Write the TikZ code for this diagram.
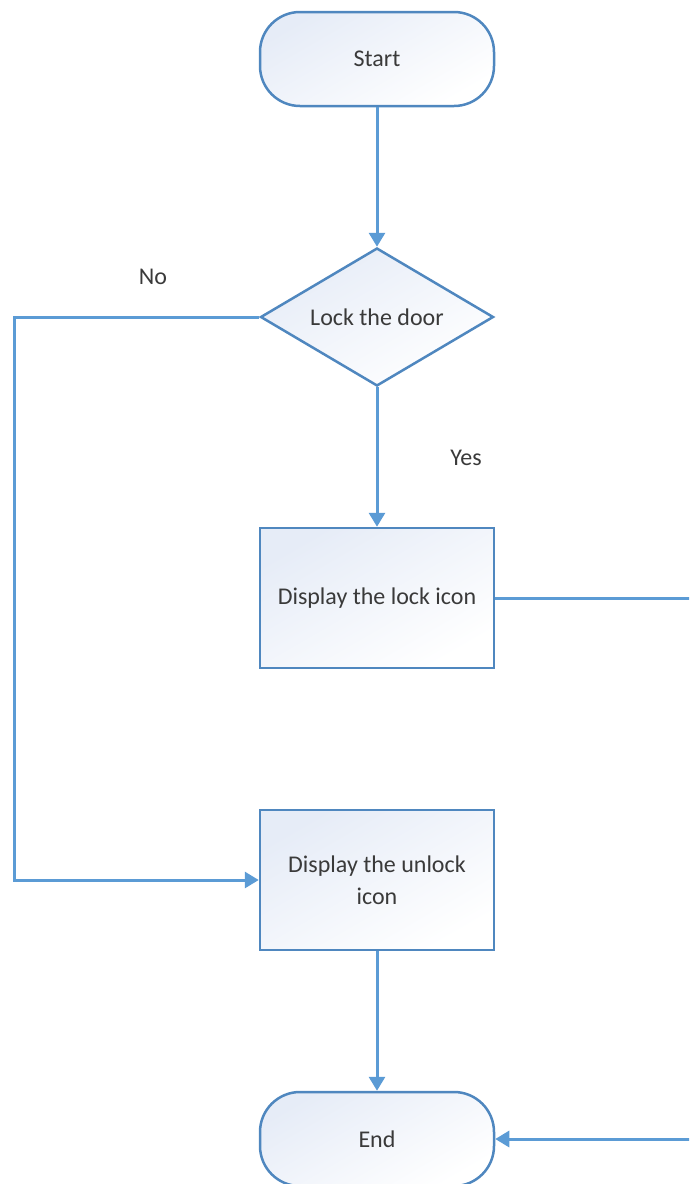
\documentclass[tikz,border=0pt]{standalone}
\usepackage{fontspec}
\setmainfont{Carlito}
\usetikzlibrary{shapes.geometric,arrows.meta}
\definecolor{edgec}{HTML}{4F87BF}
\definecolor{connc}{HTML}{5B9BD5}
\definecolor{fillA}{HTML}{E6ECF7}
\definecolor{txtc}{HTML}{3A3A3A}
\begin{document}
\begin{tikzpicture}[x=1pt,y=-1pt,
  shapebase/.style={draw=edgec, line width=2.5pt, top color=fillA, bottom color=white, shading angle=30,
    font=\fontsize{24}{32}\selectfont, text=txtc, align=center, inner sep=0pt},
  procbox/.style={shapebase, rectangle, minimum width=234pt, minimum height=140pt},
  termbox/.style={shapebase, rectangle, rounded corners=40pt, minimum width=234pt, minimum height=94pt},
  decbox/.style={shapebase, diamond, aspect=1.7, minimum width=233pt, minimum height=138pt},
  conn/.style={draw=connc, line width=3pt, -{Triangle[width=16pt,length=14pt]}},
  lbl/.style={font=\fontsize{24}{32}\selectfont, text=txtc}
]
\path[use as bounding box, clip] (0,0) rectangle (689,1184);
\node[termbox] (start) at (377,59) {Start};
\node[decbox] (dec) at (377,317) {Lock the door};
\node[procbox] (lock) at (377,598) {Display the lock icon};
\node[procbox] (unlock) at (377,880) {Display the unlock\\icon};
\node[termbox] (end) at (377,1139) {End};
\node[lbl] (no) at (153,277) {No};
\node[lbl] (yes) at (466,458) {Yes};
\coordinate (nl1) at (14,317);
\coordinate (nl2) at (14,880);
\coordinate (r1) at (730,598);
\coordinate (r2) at (730,1139);
\draw[conn] (start.south) -- (dec.north);
\draw[conn] (dec.south) -- (lock.north);
\draw[conn] (dec.west) -- (nl1) -- (nl2) -- (unlock.west);
\draw[conn] (unlock.south) -- (end.north);
\draw[conn] (lock.east) -- (r1) -- (r2) -- (end.east);
\end{tikzpicture}
\end{document}
